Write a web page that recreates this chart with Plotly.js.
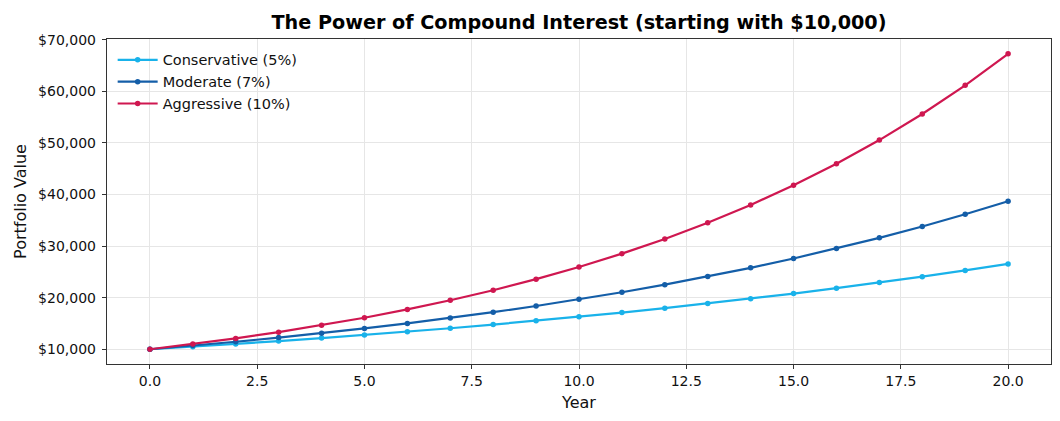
<!DOCTYPE html>
<html>
<head>
<meta charset="utf-8">
<script src="https://cdn.plot.ly/plotly-3.0.1.min.js"></script>
<style>html,body{margin:0;padding:0;background:#fff;}#chart{width:1060px;height:421px;}</style>
</head>
<body>
<div id="chart"></div>
<script>
const years = [0,1,2,3,4,5,6,7,8,9,10,11,12,13,14,15,16,17,18,19,20];
const conservative = [10000,10500,11025,11576,12155,12763,13401,14071,14775,15513,16289,17103,17959,18856,19799,20789,21829,22920,24066,25270,26533];
const moderate = [10000,10700,11449,12250,13108,14026,15007,16058,17182,18385,19672,21049,22522,24098,25785,27590,29522,31588,33799,36165,38697];
const aggressive = [10000,11000,12100,13310,14641,16105,17716,19487,21436,23579,25937,28531,31384,34523,37975,41772,45950,50545,55599,61159,67275];
const seriesNames = ['Conservative (5%)','Moderate (7%)','Aggressive (10%)'];
const colors = ['#19b2ea','#145ea8','#cf1750'];

const data = [conservative, moderate, aggressive].map((ys, i) => ({
  x: years, y: ys, name: seriesNames[i], type: 'scatter', mode: 'lines+markers',
  line: {color: colors[i], width: 2.2},
  marker: {color: colors[i], size: 5.5}
}));

const axisCommon = {
  showline: true, mirror: true, linecolor: '#333', linewidth: 1.2,
  showgrid: true, gridcolor: '#e6e6e6', gridwidth: 1,
  ticks: 'outside', ticklen: 4, tickcolor: '#333', tickwidth: 1,
  zeroline: false,
  tickfont: {family: 'DejaVu Sans', size: 14, color: '#111'}
};

const layout = {
  width: 1060, height: 421,
  paper_bgcolor: '#fff', plot_bgcolor: '#fff',
  margin: {l: 107, r: 9, t: 39, b: 57},
  font: {family: 'DejaVu Sans', color: '#111'},
  title: {text: '<b>The Power of Compound Interest (starting with $10,000)</b>', font: {family: 'DejaVu Sans', size: 19.2, color: '#000'}, x: 0.5, xref: 'paper', y: 0.948, yref: 'container', yanchor: 'middle'},
  xaxis: Object.assign({}, axisCommon, {
    range: [-1, 21], tick0: 0, dtick: 2.5, tickformat: '.1f',
    title: {text: 'Year', font: {family: 'DejaVu Sans', size: 16, color: '#111'}, standoff: 8}
  }),
  yaxis: Object.assign({}, axisCommon, {
    range: [7136, 70139], tick0: 10000, dtick: 10000, tickformat: ',d', tickprefix: '$',
    ticklabelstandoff: 3,
    title: {text: 'Portfolio Value', font: {family: 'DejaVu Sans', size: 16, color: '#111'}, standoff: 7}
  }),
  legend: {x: 0.006, y: 0.985, xanchor: 'left', yanchor: 'top', bgcolor: 'rgba(0,0,0,0)', font: {family: 'DejaVu Sans', size: 14.5, color: '#111'}, tracegroupgap: 0, itemwidth: 40},
  showlegend: true
};

Plotly.newPlot('chart', data, layout, {displayModeBar: false, staticPlot: true});
</script>
</body>
</html>
